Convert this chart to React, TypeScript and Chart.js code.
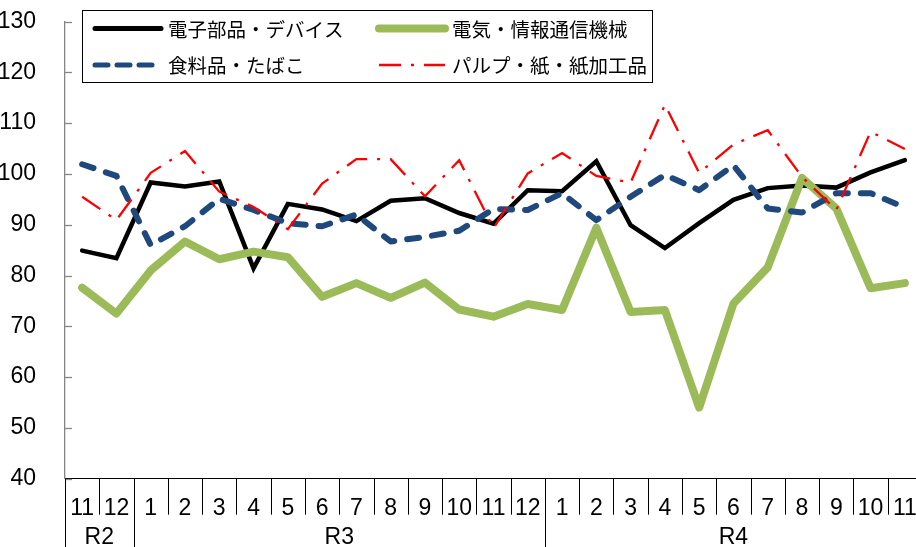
import React, { useEffect, useRef } from 'react';
import { Chart, registerables } from 'chart.js';

Chart.register(...registerables);

const monthLabels = ['11', '12', '1', '2', '3', '4', '5', '6', '7', '8', '9', '10', '11', '12', '1', '2', '3', '4', '5', '6', '7', '8', '9', '10', '11'];
const yearLabels = ['R2', 'R3', 'R4'];
const yearSpans = [2, 12, 11];

const seriesNames = ['電子部品・デバイス', '電気・情報通信機械', '食料品・たばこ', 'パルプ・紙・紙加工品'];
const electronics = [84.9, 83.4, 98.3, 97.5, 98.5, 81.4, 94.1, 93.0, 90.7, 94.7, 95.2, 92.3, 90.2, 96.8, 96.6, 102.5, 89.9, 85.4, 90.3, 94.9, 97.2, 97.7, 97.3, 100.3, 102.7];
const electrical = [77.6, 72.5, 81.0, 86.7, 83.2, 84.7, 83.6, 75.8, 78.5, 75.6, 78.6, 73.3, 71.9, 74.4, 73.2, 89.4, 72.8, 73.2, 54.0, 74.5, 81.6, 99.2, 93.2, 77.5, 78.5];
const food = [101.9, 99.6, 86.0, 89.7, 95.1, 92.9, 90.3, 89.7, 92.0, 86.7, 87.6, 88.8, 93.1, 92.9, 96.2, 90.9, 95.5, 99.8, 96.8, 101.7, 93.2, 92.4, 96.2, 96.2, 93.4];
const pulp = [95.5, 90.9, 100.2, 104.5, 96.5, 93.5, 89.1, 98.1, 102.9, 102.9, 95.6, 102.7, 89.3, 100.1, 104.1, 99.6, 98.3, 113.6, 100.2, 105.8, 108.6, 99.4, 92.9, 108.3, 104.9];

const yMin = 40;
const yMax = 130;
const yStep = 10;

const NUM_FONT = '"Liberation Sans", Arial, sans-serif';
const JP_FONT = '"Noto Sans CJK JP", "Noto Sans", sans-serif';

const axisDecor = {
  id: 'axisDecor',
  afterDraw(chart: any) {
    const ctx = chart.ctx;
    const ca = chart.chartArea;
    const xs = chart.scales.x;
    const ys = chart.scales.y;
    ctx.save();
    // inner y ticks
    ctx.strokeStyle = '#868686';
    ctx.lineWidth = 1.3;
    for (let v = yMin; v <= yMax; v += yStep) {
      const y = Math.round(ys.getPixelForValue(v)) + 0.5;
      ctx.beginPath();
      ctx.moveTo(ca.left, y);
      ctx.lineTo(ca.left + 7, y);
      ctx.stroke();
    }
    // category separators
    const n = monthLabels.length;
    const boundaries: number[] = [];
    let acc = 0;
    yearSpans.forEach((s) => {
      boundaries.push(acc);
      acc += s;
    });
    ctx.strokeStyle = '#000';
    ctx.lineWidth = 1;
    for (let i = 0; i < n; i++) {
      const x = i === 0 ? ca.left : (xs.getPixelForValue(i - 1) + xs.getPixelForValue(i)) / 2;
      const isYear = boundaries.includes(i);
      const xx = Math.round(x) + 0.5;
      ctx.beginPath();
      ctx.moveTo(xx, ca.bottom);
      ctx.lineTo(xx, isYear ? chart.height : ca.bottom + 36);
      ctx.stroke();
    }
    // year labels
    ctx.fillStyle = '#000';
    ctx.font = `23px ${NUM_FONT}`;
    ctx.textAlign = 'center';
    ctx.textBaseline = 'middle';
    acc = 0;
    yearLabels.forEach((lab, k) => {
      const first = acc;
      const last = acc + yearSpans[k] - 1;
      const left = first === 0 ? ca.left : (xs.getPixelForValue(first - 1) + xs.getPixelForValue(first)) / 2;
      const right = last === n - 1 ? ca.right : (xs.getPixelForValue(last) + xs.getPixelForValue(last + 1)) / 2;
      ctx.fillText(lab, (left + right) / 2, ca.bottom + 59);
      acc += yearSpans[k];
    });
    ctx.restore();
  },
};

const boxLegend = {
  id: 'boxLegend',
  afterDraw(chart: any) {
    const ctx = chart.ctx;
    const ca = chart.chartArea;
    const x0 = ca.left + 17;
    const y0 = 10;
    const w = 570;
    const h = 72;
    ctx.save();
    ctx.fillStyle = '#fff';
    ctx.fillRect(x0, y0, w, h);
    ctx.strokeStyle = '#000';
    ctx.lineWidth = 1;
    ctx.setLineDash([]);
    ctx.strokeRect(x0 + 0.5, y0 + 0.5, w, h);
    const cols = [x0 + 11, x0 + 295];
    const rows = [y0 + 18.5, y0 + 55];
    chart.data.datasets.forEach((ds: any, i: number) => {
      const col = i % 2;
      const row = Math.floor(i / 2);
      const sx = cols[col];
      const sy = rows[row];
      ctx.beginPath();
      ctx.setLineDash(ds.legendDash || []);
      ctx.lineCap = ds.borderCapStyle || 'butt';
      ctx.lineWidth = ds.legendWidth || ds.borderWidth;
      ctx.strokeStyle = ds.borderColor;
      ctx.moveTo(sx + 2, sy);
      ctx.lineTo(sx + 68, sy);
      ctx.stroke();
      ctx.setLineDash([]);
      ctx.fillStyle = '#000';
      ctx.font = `19.5px ${JP_FONT}`;
      ctx.textAlign = 'left';
      ctx.textBaseline = 'middle';
      ctx.fillText(ds.label, sx + 75, sy + 1);
    });
    ctx.restore();
  },
};

export default function App() {
  const ref = useRef<HTMLCanvasElement | null>(null);

  useEffect(() => {
    if (!ref.current) return;
    const chart = new Chart(ref.current, {
      type: 'line',
      data: {
        labels: monthLabels,
        datasets: [
          {
            label: seriesNames[0],
            data: electronics,
            borderColor: '#000000',
            borderWidth: 4.5,
            legendWidth: 5,
            borderCapStyle: 'round',
            borderJoinStyle: 'miter',
            pointRadius: 0,
            tension: 0,
            fill: false,
            order: 4,
          } as any,
          {
            label: seriesNames[1],
            data: electrical,
            borderColor: '#9BBB59',
            borderWidth: 8,
            legendWidth: 8,
            borderCapStyle: 'round',
            borderJoinStyle: 'round',
            pointRadius: 0,
            tension: 0,
            fill: false,
            order: 3,
          } as any,
          {
            label: seriesNames[2],
            data: food,
            borderColor: '#1F497D',
            borderWidth: 6,
            legendWidth: 5,
            borderDash: [12, 13],
            legendDash: [13, 9],
            borderCapStyle: 'round',
            borderJoinStyle: 'round',
            pointRadius: 0,
            tension: 0,
            fill: false,
            order: 2,
          } as any,
          {
            label: seriesNames[3],
            data: pulp,
            borderColor: '#FF0000',
            borderWidth: 2.3,
            legendWidth: 2.3,
            borderDash: [22, 10, 3, 10],
            legendDash: [22, 10, 3, 10],
            borderCapStyle: 'butt',
            borderJoinStyle: 'miter',
            pointRadius: 0,
            tension: 0,
            fill: false,
            order: 1,
          } as any,
        ],
      },
      options: {
        animation: false,
        responsive: false,
        devicePixelRatio: 1,
        layout: { padding: { top: 21.5, right: 0, left: 0, bottom: 0 } },
        plugins: {
          legend: { display: false },
          tooltip: { enabled: false },
          title: { display: false },
        },
        scales: {
          x: {
            type: 'category',
            offset: true,
            grid: { display: false },
            border: { display: true, color: '#000', width: 1 },
            ticks: {
              autoSkip: false,
              maxRotation: 0,
              minRotation: 0,
              padding: 8,
              color: '#000',
              font: { family: NUM_FONT, size: 23 },
            },
            afterFit: (scale: any) => {
              scale.height = 68.3;
              scale.paddingLeft = 0;
              scale.paddingRight = 0;
            },
          },
          y: {
            min: yMin,
            max: yMax,
            grid: { display: false },
            border: { display: true, color: '#868686', width: 1.3 },
            ticks: {
              stepSize: yStep,
              padding: 21,
              color: '#000',
              font: { family: NUM_FONT, size: 23 },
            },
            afterFit: (scale: any) => {
              scale.width = 65;
              scale.paddingTop = 0;
              scale.paddingBottom = 0;
            },
          },
        },
      } as any,
      plugins: [axisDecor, boxLegend],
    });
    return () => chart.destroy();
  }, []);

  return (
    <div style={{ position: 'fixed', left: 0, top: 0, width: 922, height: 547, background: '#fff' }}>
      <canvas ref={ref} width={922} height={547} style={{ display: 'block' }} />
    </div>
  );
}
